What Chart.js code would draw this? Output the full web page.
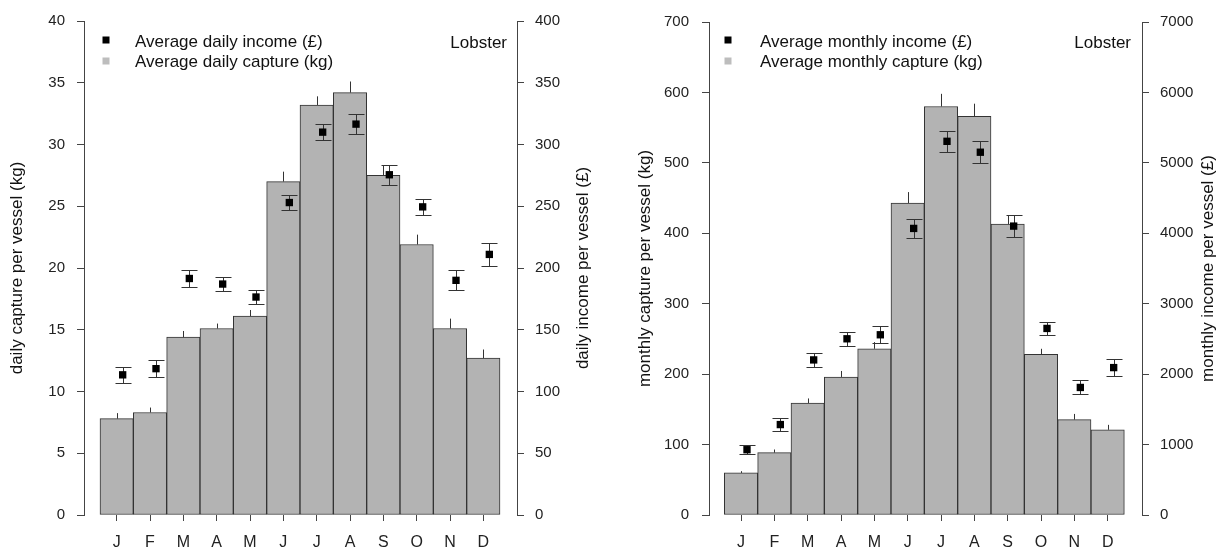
<!DOCTYPE html>
<html><head><meta charset="utf-8">
<script src="https://cdn.jsdelivr.net/npm/chart.js@4"></script>
<style>
html,body{margin:0;padding:0;background:#fff;width:1224px;height:554px;overflow:hidden}
.panel{position:absolute;top:0;width:612px;height:554px}
</style></head><body>
<div class="panel" style="left:0"><canvas id="c1" width="612" height="554"></canvas></div>
<div class="panel" style="left:612px"><canvas id="c2" width="612" height="554"></canvas></div>
<script>
// ---- data ----
const months = ['J','F','M','A','M','J','J','A','S','O','N','D'];

const dailyCapture    = [7.8, 8.3, 14.4, 15.1, 16.1, 27.0, 33.2, 34.2, 27.5, 21.9, 15.1, 12.7];
const dailyCaptureErr = [0.45, 0.4, 0.5, 0.4, 0.5, 0.8, 0.7, 0.9, 0.8, 0.8, 0.8, 0.7];
const dailyIncome     = [113.5, 118.5, 191.5, 187, 176.5, 253, 310, 316.5, 275.5, 249.5, 190, 211];
const dailyIncomeErr  = [6.7, 6.8, 6.8, 5.5, 5.8, 6.0, 6.7, 7.8, 8.0, 6.6, 8.2, 9.5];

const monthlyCapture    = [59.7, 88.5, 159, 196, 236, 443, 580, 566, 413, 228, 135.5, 121];
const monthlyCaptureErr = [2.5, 4.5, 6.5, 8.5, 9.5, 15.5, 18, 18, 12, 8, 8, 7];
const monthlyIncome     = [927, 1284, 2202, 2502, 2559, 4069, 5306, 5151, 4102, 2649, 1811, 2093];
const monthlyIncomeErr  = [60, 90, 97, 100, 122, 137, 153, 155, 154, 89, 100, 122];

const dailyTicks   = {left:[0,40,5],  right:[0,400,50]};
const monthlyTicks = {left:[0,700,100], right:[0,7000,1000]};

// ---- style ----
const FONT = '"Liberation Sans", Arial, sans-serif';
const POINT_SHIFT = 0.18;
const CAP = 8;
const AXIS = '#444';
const BAR_FILL = '#b3b3b3';

const decor = {
  id: 'decor',
  beforeDatasetDraw(chart, args) {
    if (args.index !== 1) return;
    const p = chart.options.plugins.decor;
    const ctx = chart.ctx;
    const x = chart.scales.x, xp = chart.scales.xp, y = chart.scales.y, y2 = chart.scales.y2;
    ctx.save();
    ctx.strokeStyle = '#333';
    ctx.lineWidth = 1;
    p.capture.forEach((v, i) => {
      const px = Math.round(x.getPixelForValue(i)) + 0.5;
      ctx.beginPath();
      ctx.moveTo(px, y.getPixelForValue(v));
      ctx.lineTo(px, y.getPixelForValue(v + p.captureErr[i]));
      ctx.stroke();
    });
    p.income.forEach((v, i) => {
      const px = Math.round(xp.getPixelForValue(i + POINT_SHIFT)) + 0.5;
      const top = Math.round(y2.getPixelForValue(v + p.incomeErr[i])) + 0.5;
      const bot = Math.round(y2.getPixelForValue(v - p.incomeErr[i])) + 0.5;
      ctx.beginPath();
      ctx.moveTo(px, top); ctx.lineTo(px, bot);
      ctx.moveTo(px - CAP, top); ctx.lineTo(px + CAP, top);
      ctx.moveTo(px - CAP, bot); ctx.lineTo(px + CAP, bot);
      ctx.stroke();
    });
    ctx.restore();
  },
  afterDraw(chart) {
    const p = chart.options.plugins.decor;
    const ctx = chart.ctx;
    const ca = chart.chartArea;
    const cy = (ca.top + ca.bottom) / 2;
    ctx.save();
    ctx.fillStyle = '#111';
    ctx.font = '17px ' + FONT;
    ctx.textAlign = 'center';
    ctx.textBaseline = 'middle';
    [[p.titleLeftX, p.titleLeft], [p.titleRightX, p.titleRight]].forEach(([tx, t]) => {
      ctx.save();
      ctx.translate(tx, cy);
      ctx.rotate(-Math.PI / 2);
      ctx.fillText(t, 0, 0);
      ctx.restore();
    });
    // legend
    ctx.fillStyle = '#000';
    ctx.fillRect(p.legendSqX - 3.5, 40 - 3.5, 7, 7);
    ctx.fillStyle = '#bdbdbd';
    ctx.fillRect(p.legendSqX - 3.5, 61 - 3.5, 7, 7);
    ctx.fillStyle = '#111';
    ctx.textAlign = 'left';
    ctx.fillText(p.legend[0], p.legendTextX, 42);
    ctx.fillText(p.legend[1], p.legendTextX, 62);
    ctx.textAlign = 'right';
    ctx.fillText('Lobster', p.lobsterX, 43);
    ctx.restore();
  }
};

function makeChart(id, cfg) {
  const ctx = document.getElementById(id);
  const tickFont = {family: FONT, size: 15};
  const xTickFont = {family: FONT, size: 16};
  const bars = cfg.capture.map((v, i) => ({x: i, y: v}));
  const pts = cfg.income.map((v, i) => ({x: i + POINT_SHIFT, y: v}));
  return new Chart(ctx, {
    type: 'bar',
    data: {
      datasets: [
        {type: 'bar', data: bars, xAxisID: 'x', yAxisID: 'y', order: 1, grouped: false,
         backgroundColor: BAR_FILL, borderColor: '#333', borderWidth: 1, borderSkipped: false,
         barPercentage: 1, categoryPercentage: 1},
        {type: 'line', data: pts, xAxisID: 'xp', yAxisID: 'y2', order: 0, showLine: false,
         pointStyle: 'rect', pointRadius: 5.2, backgroundColor: '#000', borderColor: '#000', borderWidth: 0}
      ]
    },
    options: {
      responsive: false,
      animation: false,
      devicePixelRatio: 1,
      layout: {padding: {top: 19, left: 0, right: 0, bottom: 0}},
      plugins: {
        legend: {display: false},
        tooltip: {enabled: false},
        decor: cfg
      },
      scales: {
        x: {
          type: 'linear', position: 'bottom', min: cfg.xMin, max: cfg.xMax, offset: false,
          afterFit: s => { s.height = 39; },
          afterBuildTicks: s => { s.ticks = months.map((m, i) => ({value: i})); },
          ticks: {callback: v => months[v], font: xTickFont, color: '#222', padding: 12, maxRotation: 0, autoSkip: false},
          grid: {drawOnChartArea: false, drawTicks: true, tickLength: 6, color: AXIS, offset: false},
          border: {display: false}
        },
        xp: {type: 'linear', display: false, min: cfg.xMin, max: cfg.xMax, offset: false, grid: {offset: false}},
        y: {
          position: 'left', min: cfg.left[0], max: cfg.left[1],
          afterFit: s => { s.width = cfg.leftWidth; },
          ticks: {stepSize: cfg.left[2], font: tickFont, color: '#222', padding: cfg.leftPad, callback: v => String(v)},
          grid: {drawOnChartArea: false, drawTicks: true, tickLength: 7, color: AXIS},
          border: {display: true, color: AXIS, width: 1}
        },
        y2: {
          position: 'right', min: cfg.right[0], max: cfg.right[1],
          afterFit: s => { s.width = cfg.rightWidth; },
          ticks: {stepSize: cfg.right[2], font: tickFont, color: '#222', padding: 11, callback: v => String(v)},
          grid: {drawOnChartArea: false, drawTicks: true, tickLength: 7, color: AXIS},
          border: {display: true, color: AXIS, width: 1}
        }
      }
    },
    plugins: [decor]
  });
}

makeChart('c1', {
  capture: dailyCapture, captureErr: dailyCaptureErr,
  income: dailyIncome, incomeErr: dailyIncomeErr,
  left: dailyTicks.left, right: dailyTicks.right,
  xMin: -0.98, xMax: 12.01, leftWidth: 84, rightWidth: 95, leftPad: 12,
  titleLeft: 'daily capture per vessel (kg)', titleLeftX: 17,
  titleRight: 'daily income per vessel (£)', titleRightX: 583,
  legend: ['Average daily income (£)', 'Average daily capture (kg)'],
  legendSqX: 106, legendTextX: 135, lobsterX: 507
});

makeChart('c2', {
  capture: monthlyCapture, captureErr: monthlyCaptureErr,
  income: monthlyIncome, incomeErr: monthlyIncomeErr,
  left: monthlyTicks.left, right: monthlyTicks.right,
  xMin: -0.96, xMax: 12.03, leftWidth: 97, rightWidth: 82, leftPad: 13,
  titleLeft: 'monthly capture per vessel (kg)', titleLeftX: 33,
  titleRight: 'monthly income per vessel (£)', titleRightX: 596,
  legend: ['Average monthly income (£)', 'Average monthly capture (kg)'],
  legendSqX: 116, legendTextX: 148, lobsterX: 519
});
</script>
</body></html>
